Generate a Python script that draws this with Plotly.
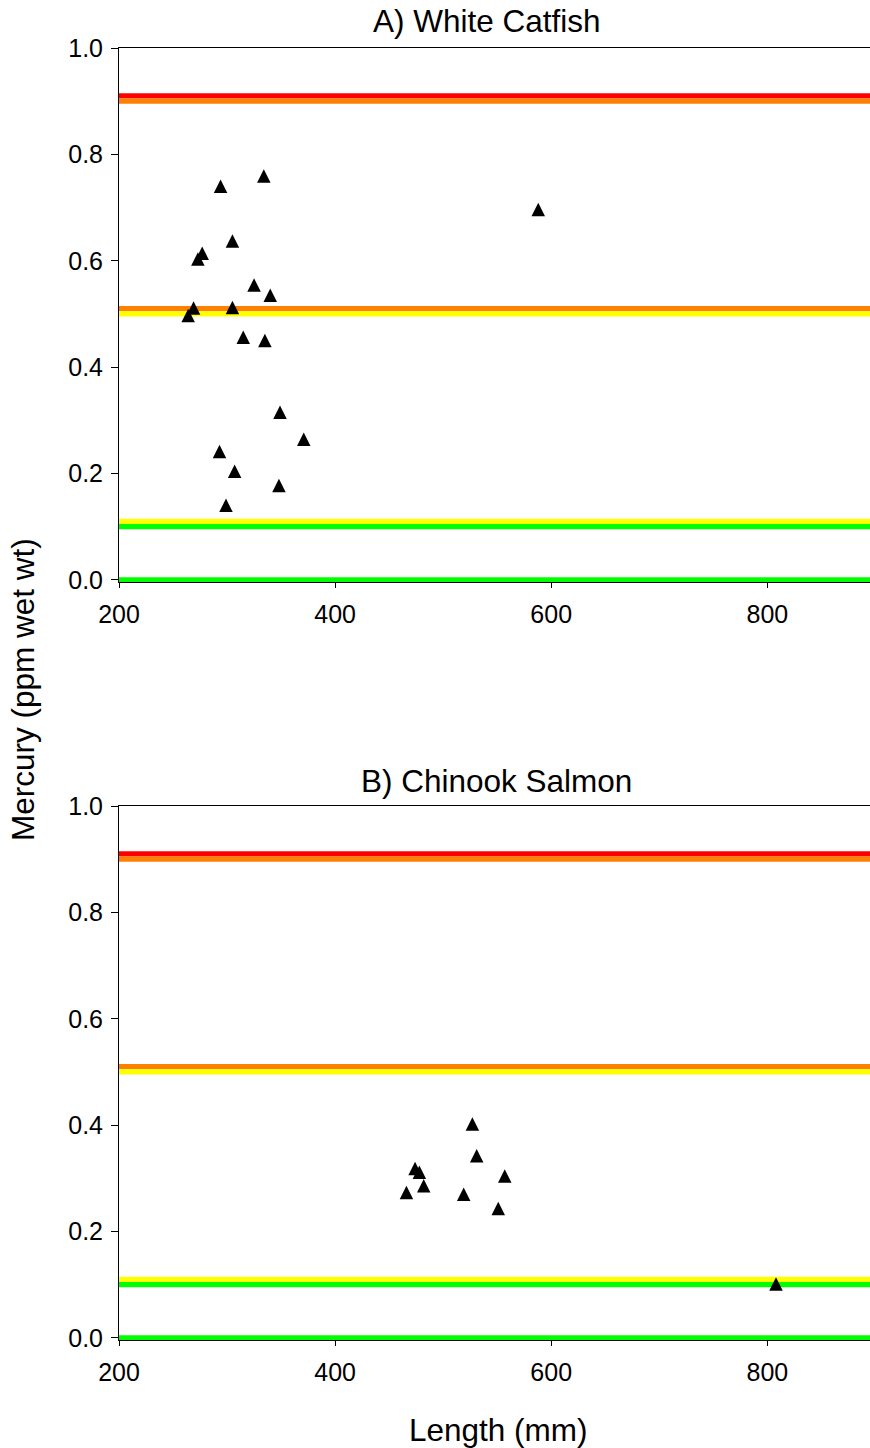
import plotly.graph_objects as go

# Mercury concentration vs. fish length, two species
catfish_length = [294, 334, 588, 305, 277, 273, 325, 340, 269, 264, 305, 315, 335, 349, 371, 293, 307, 348, 299]
catfish_mercury = [0.736, 0.755, 0.692, 0.633, 0.610, 0.599, 0.550, 0.531, 0.507, 0.493, 0.508,
                   0.452, 0.446, 0.311, 0.260, 0.237, 0.200, 0.173, 0.136]

salmon_length = [527, 531, 557, 474, 478, 482, 466, 519, 551, 808]
salmon_mercury = [0.398, 0.338, 0.300, 0.314, 0.307, 0.282, 0.269, 0.266, 0.239, 0.097]

# Advisory threshold lines (ppm) and their colours
threshold_levels = [0.91, 0.90, 0.51, 0.50, 0.11, 0.10, 0.0]
threshold_colors = ["#FF0000", "#FF8000", "#FF8000", "#FFFF00", "#FFFF00", "#00FF00", "#00FF00"]

panel_titles = ["A) White Catfish", "B) Chinook Salmon"]
x_ticks = [200, 400, 600, 800]
y_ticks = [0.0, 0.2, 0.4, 0.6, 0.8, 1.0]

X_RANGE = [200, 895]
Y_RANGE = [-0.004, 1.0]
W, H = 870, 1448
FONT = "Liberation Sans, Arial, sans-serif"
TITLE_SIZE = 31.5

fig = go.Figure()

panels = [("x", "y", catfish_length, catfish_mercury),
          ("x2", "y2", salmon_length, salmon_mercury)]

for xa, ya, lx, hg in panels:
    for lvl, col in zip(threshold_levels, threshold_colors):
        fig.add_trace(go.Scatter(
            x=[X_RANGE[0], 900], y=[lvl, lvl], mode="lines",
            line=dict(color=col, width=5.3), xaxis=xa, yaxis=ya,
            hoverinfo="skip", showlegend=False))
    # upward triangles centred on each point
    fig.add_trace(go.Scatter(
        x=lx, y=hg, mode="markers", xaxis=xa, yaxis=ya, showlegend=False,
        marker=dict(symbol="arrow-down", angle=180, standoff=9, size=13.5,
                    color="black", line=dict(width=0))))

def px_y(p):
    return 1 - p / H

x_dom = [119 / W, 1.0]
domains = [[px_y(582), px_y(48)], [px_y(1340), px_y(806)]]

axis_common = dict(
    range=X_RANGE, tickvals=x_ticks, ticks="outside", ticklen=5, tickwidth=1,
    tickcolor="black", showline=True, linecolor="black", linewidth=1, mirror=True,
    showgrid=False, zeroline=False, layer="below traces", automargin=False,
    ticklabelstandoff=5,
    tickfont=dict(family=FONT, size=25, color="black"))
yaxis_common = dict(
    range=Y_RANGE, tickvals=y_ticks, tickformat=".1f", ticks="outside", ticklen=7,
    tickwidth=1, tickcolor="black", showline=True, linecolor="black", linewidth=1,
    showgrid=False, zeroline=False, layer="below traces", automargin=False,
    ticklabelstandoff=3,
    tickfont=dict(family=FONT, size=25, color="black"))

fig.update_layout(
    width=W, height=H, autosize=False,
    margin=dict(l=0, r=0, t=0, b=0, pad=0),
    paper_bgcolor="white", plot_bgcolor="white",
    xaxis=dict(domain=x_dom, anchor="y", **axis_common),
    yaxis=dict(domain=domains[0], anchor="x", **yaxis_common),
    xaxis2=dict(domain=x_dom, anchor="y2", **axis_common),
    yaxis2=dict(domain=domains[1], anchor="x2", **yaxis_common),
)

def label(text, cx, cy, angle=0):
    return dict(text=text, x=cx / W, y=px_y(cy), xref="paper", yref="paper",
                xanchor="center", yanchor="middle", showarrow=False, textangle=angle,
                font=dict(family=FONT, size=TITLE_SIZE, color="black"))

fig.update_layout(annotations=[
    label(panel_titles[0], 487, 21),
    label(panel_titles[1], 496, 781),
    label("Mercury (ppm wet wt)", 23, 690, -90),
    label("Length (mm)", 498, 1430),
])

fig.write_html("out.html")
